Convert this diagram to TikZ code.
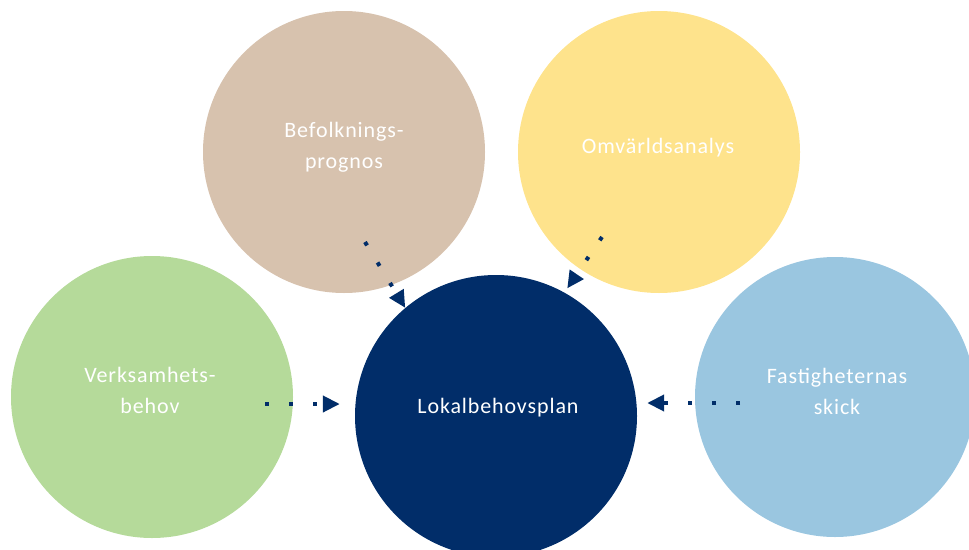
\documentclass[tikz,border=0pt]{standalone}
\usepackage{fontspec}
\setmainfont{Carlito}
\usetikzlibrary{arrows.meta}
\definecolor{tanC}{HTML}{D7C2AE}
\definecolor{yelC}{HTML}{FEE38C}
\definecolor{greC}{HTML}{B5DA9A}
\definecolor{bluC}{HTML}{9AC6E0}
\definecolor{navC}{HTML}{012D69}
\begin{document}
\begin{tikzpicture}[x=1pt,y=-1pt,
  bubble/.style={circle, minimum size=282pt, inner sep=0pt, draw=none},
  lbl/.style={text=white, align=center, inner sep=0pt,
    font=\fontsize{22}{31}\selectfont\addfontfeatures{LetterSpace=4}},
  flow/.style={draw=navC, line width=4pt, dash pattern=on 4pt off 20pt,
    -{Triangle[length=17pt,width=16pt]}}]
\useasboundingbox (0,0) rectangle (969,549);
\clip (0,0) rectangle (969,549);
% circles
\node[bubble, fill=tanC] (tan) at (344,152) {};
\node[bubble, fill=yelC] (yel) at (659,152) {};
\node[bubble, fill=greC] (gre) at (152,397) {};
\node[bubble, fill=bluC, minimum size=280pt] (blu) at (835,397) {};
\node[bubble, fill=navC] (nav) at (496,416) {};
% labels
\node[lbl] (tanT) at (344,147) {Befolknings-\\prognos};
\node[lbl] (yelT) at (658,147.6) {Omvärldsanalys};
\node[lbl] (greT) at (150,390.8) {Verksamhets-\\behov};
\node[lbl] (bluT) at (837,391.8) {Fastigheternas\\skick};
\node[lbl] (navT) at (498,407.6) {Lokalbehovsplan};
% connectors
\coordinate (s1) at (365,242);
\coordinate (s2) at (602,237);
\coordinate (s3) at (265,404);
\coordinate (s4) at (740,403);
\draw[flow] (s1) -- (nav.130);
\draw[flow, shorten >=5pt] (s2) -- (nav.61);
\draw[flow, shorten >=15pt] (s3) -- (s3 -| nav.west);
\draw[flow, shorten >=10pt] (s4) -- (s4 -| nav.east);
\end{tikzpicture}
\end{document}
